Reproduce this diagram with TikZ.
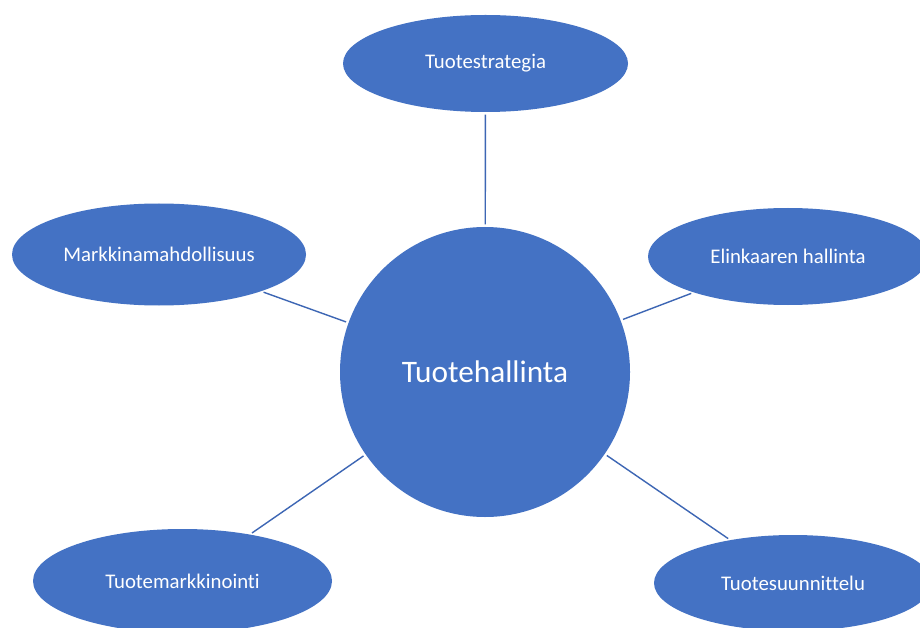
\documentclass[tikz,border=0pt]{standalone}
\usepackage{fontspec}
\setmainfont{Carlito}[Ligatures={NoCommon}]
\usetikzlibrary{shapes.geometric}
\definecolor{topicblue}{HTML}{4472C4}
\definecolor{linkblue}{HTML}{3D66B4}
\tikzset{
  hub/.style={circle, fill=topicblue, draw=none, minimum size=290pt, inner sep=0pt,
    text=white, font=\fontsize{31.3}{36}\selectfont},
  topic/.style={ellipse, fill=topicblue, draw=none, inner sep=0pt,
    text=white, font=\fontsize{20.8}{24}\selectfont},
  link/.style={draw=linkblue, line width=1.4pt, shorten <=2.5pt, shorten >=2.5pt}
}
\begin{document}
\begin{tikzpicture}[x=1pt, y=-1pt]
  \useasboundingbox (0,0) rectangle (920,628);
  \clip (0,0) rectangle (920,628);
  \fill[white] (0,0) rectangle (920,628);

  % central topic
  \node[hub] (hub) at (485,372) {Tuotehallinta};

  % surrounding topics
  \node[topic, minimum width=285pt, minimum height=97pt]  (strat) at (485.5,63.5) {Tuotestrategia};
  \node[topic, minimum width=294pt, minimum height=102pt] (mark)  at (159,254.5)  {Markkinamahdollisuus};
  \node[topic, minimum width=280pt, minimum height=97pt]  (life)  at (788,256.5)  {Elinkaaren hallinta};
  \node[topic, minimum width=299pt, minimum height=104pt] (promo) at (182.5,581)  {Tuotemarkkinointi};
  \node[topic, minimum width=278pt, minimum height=96pt]  (design) at (793,583)   {Tuotesuunnittelu};

  % connectors
  \draw[link] (strat) -- (hub);
  \draw[link] (mark) -- (hub);
  \draw[link] (life) -- (hub);
  \draw[link] (promo) -- (hub);
  \draw[link] (design) -- (hub);
\end{tikzpicture}
\end{document}
